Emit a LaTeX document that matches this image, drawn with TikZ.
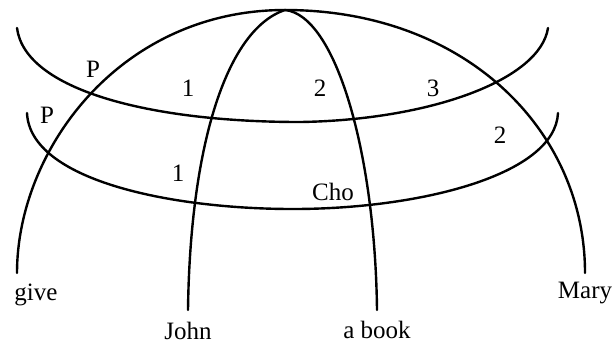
\documentclass[tikz,border=0pt]{standalone}
\usepackage{fontspec}
\setmainfont{Liberation Serif}
\usepackage{tikz}
\usetikzlibrary{positioning}

\tikzset{
  globe/.style={line width=1.2pt,line cap=round},
  word/.style={font=\fontsize{12.5}{15}\selectfont,inner sep=0pt},
  slot/.style={font=\fontsize{12.5}{15}\selectfont,inner sep=0pt}
}

\begin{document}
\begin{tikzpicture}[x=0.5pt,y=-0.5pt]
  \useasboundingbox (0,0) rectangle (613,345);
  % end points of the meridians
  \coordinate (top) at (285,10);
  \coordinate (give) at (17,273);
  \coordinate (john) at (188,310);
  \coordinate (book) at (377,310);
  \coordinate (mary) at (585,273);
  % meridians
  \draw[globe] (give) .. controls (17,150) and (120,10) .. (top)
    .. controls (465,10) and (585,130) .. (mary);
  \draw[globe] (john) .. controls (190,150) and (225,30) .. (top);
  \draw[globe] (top) .. controls (335,15) and (375,150) .. (book);
  % the two rings
  \draw[globe] (17,28) .. controls (25,90) and (150,122) .. (300,122)
    .. controls (430,120) and (540,80) .. (548,28);
  \draw[globe] (27,113) .. controls (30,180) and (170,209) .. (293,209)
    .. controls (420,209) and (555,175) .. (558,113);
  % words
  \node[word] (w-give) at (36,295) {give};
  \node[word] (w-john) at (188,331) {John};
  \node[word] (w-book) at (377,330) {a book};
  \node[word] (w-mary) at (585,293) {Mary};
  % slot labels
  \node[slot] (p-up) at (93,69) {P};
  \node[slot] (p-low) at (47,115) {P};
  \node[slot] (one-up) at (188,88) {1};
  \node[slot] (two-up) at (320,88) {2};
  \node[slot] (three-up) at (433,88) {3};
  \node[slot] (one-low) at (178,173) {1};
  \node[slot] (two-low) at (500,135) {2};
  \node[slot] (cho) at (333,192) {Cho};
\end{tikzpicture}
\end{document}
